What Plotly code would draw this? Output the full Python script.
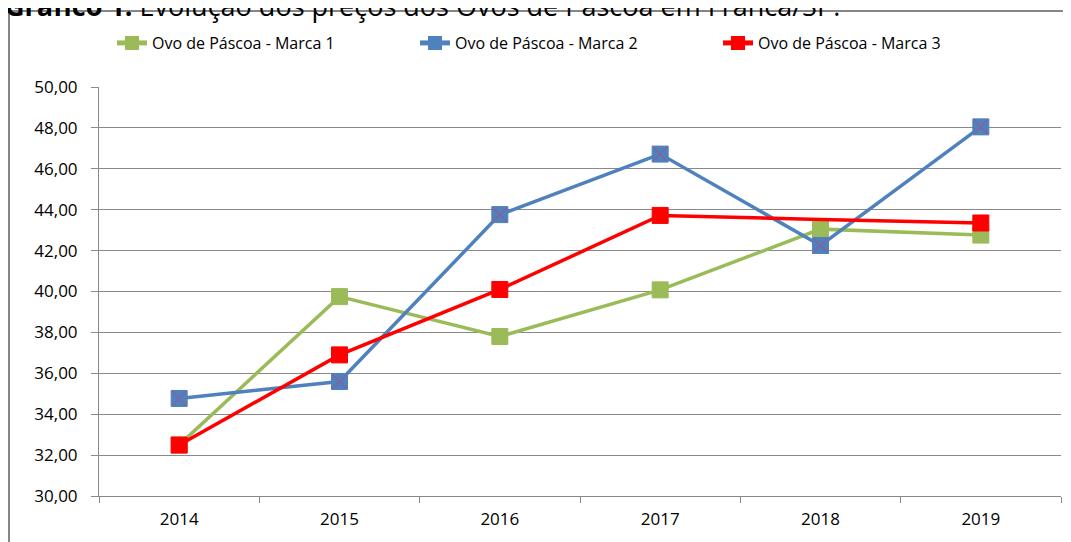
import plotly.graph_objects as go

anos = ["2014", "2015", "2016", "2017", "2018", "2019"]
marca_1 = [32.50, 39.75, 37.80, 40.08, 43.05, 42.76]
marca_2 = [34.77, 35.60, 43.76, 46.72, 42.25, 48.05]
marca_3 = [32.49, 36.90, 40.10, 43.72, 43.52, 43.35]
nomes = ["Ovo de Páscoa - Marca 1", "Ovo de Páscoa - Marca 2", "Ovo de Páscoa - Marca 3"]
y_ticks = [30, 32, 34, 36, 38, 40, 42, 44, 46, 48, 50]

FONT = "Open Sans"
GRID = "#898989"

fig = go.Figure()

fig.add_trace(go.Scatter(
    x=anos, y=marca_1, name=nomes[0], mode="lines+markers",
    line=dict(color="#9bbb59", width=3.5),
    marker=dict(symbol="square", size=16, color="#9bbb59",
                line=dict(color="#9bbb59", width=1)),
))
fig.add_trace(go.Scatter(
    x=anos, y=marca_2, name=nomes[1], mode="lines+markers",
    line=dict(color="#4f81bd", width=3.5),
    marker=dict(symbol="square", size=16, color="#4f81bd",
                line=dict(color="#4f81bd", width=1)),
))
# purple cross drawn over the blue squares
fig.add_trace(go.Scatter(
    x=anos, y=marca_2, mode="markers", showlegend=False, hoverinfo="skip",
    marker=dict(symbol="x-thin", size=14, line=dict(color="#8064a2", width=1.5)),
))
# no marker on the 2018 point of this series
fig.add_trace(go.Scatter(
    x=anos, y=marca_3, name=nomes[2], mode="lines+markers",
    line=dict(color="#ff0000", width=3.5),
    marker=dict(symbol="square", size=[16, 16, 16, 16, 0, 16], color="#ff0000",
                opacity=1, line=dict(color="#ff0000", width=1)),
))

# the page adds an 8px body margin, so the figure is 8px smaller than the window
fig.update_layout(
    width=1063, height=534,
    margin=dict(l=91, r=10, t=79, b=46),
    paper_bgcolor="white", plot_bgcolor="white",
    separators=",.",
    font=dict(family=FONT, size=17, color="#000000"),
    showlegend=True,
    legend=dict(
        orientation="h", x=(112 - 99) / 962, xanchor="left",
        y=(496 - 43) / 409, yanchor="middle",
        font=dict(family=FONT, size=16, color="#000000"),
        entrywidth=258, itemsizing="constant", traceorder="normal",
        bgcolor="rgba(0,0,0,0)",
    ),
    xaxis=dict(
        type="category", tickson="boundaries",
        showgrid=False, ticks="outside", ticklen=6, tickcolor=GRID,
        showline=True, linecolor=GRID, linewidth=1,
        tickfont=dict(family=FONT, size=17),
        ticklabelstandoff=8, automargin=False,
        range=[-0.5, 5.5],
    ),
    yaxis=dict(
        range=[30, 50], tickvals=y_ticks, tickformat=".2f",
        showgrid=True, gridcolor=GRID, gridwidth=1,
        ticks="outside", ticklen=7, tickcolor=GRID,
        showline=True, linecolor=GRID, linewidth=1,
        zeroline=False, automargin=False,
        tickfont=dict(family=FONT, size=17),
        ticklabelstandoff=10,
    ),
    shapes=[dict(
        type="rect", xref="paper", yref="paper",
        x0=(9 - 99) / 962, x1=(1090 - 99) / 962,
        y0=-0.3, y1=(496 - 11) / 409,
        line=dict(color="#868686", width=2), fillcolor="rgba(0,0,0,0)", layer="below",
    )],
    annotations=[dict(
        text="<b>Gráfico 1.</b> Evolução dos preços dos Ovos de Páscoa em Franca/SP.",
        xref="paper", yref="paper", x=(3 - 99) / 962, y=(496 - 5) / 409,
        xanchor="left", yanchor="middle", showarrow=False,
        font=dict(family=FONT, size=27, color="#000000"),
    )],
)

fig.write_html("out.html")
